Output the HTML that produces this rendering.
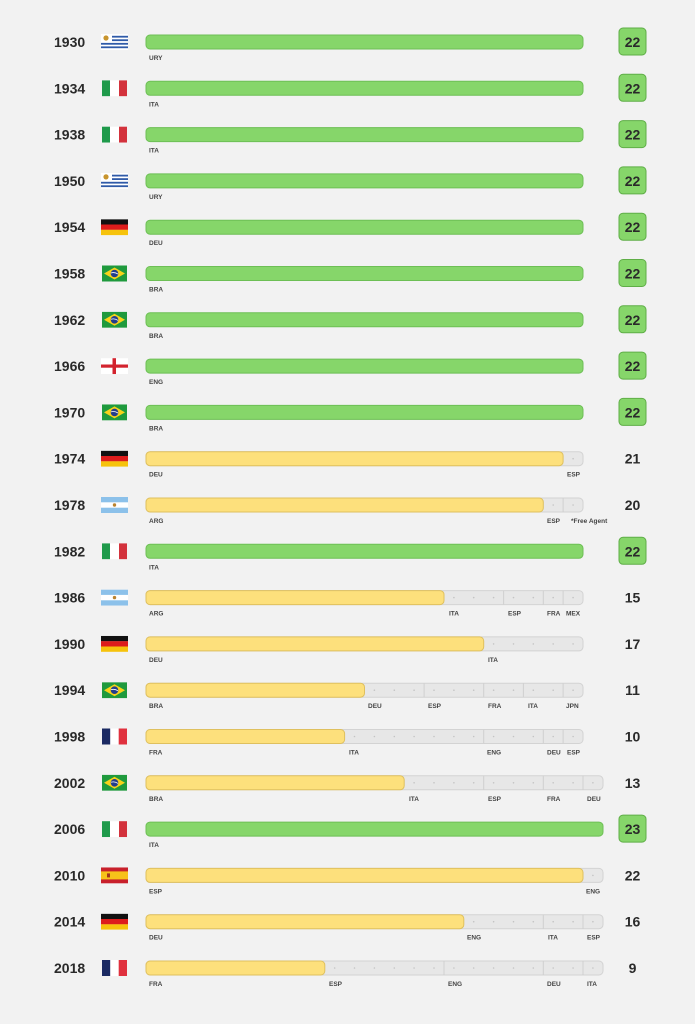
<!DOCTYPE html>
<html><head><meta charset="utf-8"><style>
html,body{margin:0;padding:0;background:#f2f2f2;}
svg{display:block;font-family:"Liberation Sans",sans-serif;}
.yr{font-size:14px;font-weight:bold;fill:#2a2a2a;}
.lb{font-size:6.5px;font-weight:bold;fill:#444;}
.n{font-size:14px;font-weight:bold;fill:#2a2a2a;text-anchor:middle;}
.g{fill:#86d66a;stroke:#6dbf55;stroke-width:1;}
.y{fill:#fde07c;stroke:#dfc05e;stroke-width:1;}
.b{fill:#e7e7e7;stroke:#d3d3d3;stroke-width:1;}
.bd{fill:#86d66a;stroke:#5fae47;stroke-width:1;}
.s{stroke:#d0d0d0;stroke-width:1;}
.d{fill:#c4c4c4;}
</style></head><body>
<svg width="695" height="1024" viewBox="0 0 695 1024">
<defs>
<symbol id="URY" viewBox="0 0 27 16"><rect width="27" height="16" fill="#fff"/><rect y="1.8" width="27" height="1.8" fill="#2f5aa8"/><rect y="5.3" width="27" height="1.8" fill="#2f5aa8"/><rect y="8.9" width="27" height="1.8" fill="#2f5aa8"/><rect y="12.4" width="27" height="1.8" fill="#2f5aa8"/><rect width="11" height="8.5" fill="#fff"/><circle cx="5" cy="4" r="2.6" fill="#c8952e"/></symbol>
<symbol id="ITA" viewBox="0 0 27 16"><rect x="1" width="8" height="16" fill="#1f9a4b"/><rect x="9" width="9" height="16" fill="#fff"/><rect x="18" width="8" height="16" fill="#d3323c"/></symbol>
<symbol id="DEU" viewBox="0 0 27 16"><rect width="27" height="5.4" fill="#111"/><rect y="5.3" width="27" height="5.4" fill="#dd1c1c"/><rect y="10.6" width="27" height="5.4" fill="#f6c30c"/></symbol>
<symbol id="BRA" viewBox="0 0 27 16"><rect x="1" width="25" height="16" fill="#1f9a3d"/><polygon points="13.5,2 24,8 13.5,14 3,8" fill="#f7d31a"/><circle cx="13.5" cy="8" r="3.8" fill="#233e8b"/><path d="M10,7.5 Q13.5,6.3 17,8.6" stroke="#fff" stroke-width="0.8" fill="none"/></symbol>
<symbol id="ENG" viewBox="0 0 27 16"><rect width="27" height="16" fill="#fff"/><rect x="11.5" width="3.5" height="16" fill="#d3232e"/><rect y="6.4" width="27" height="3.2" fill="#d3232e"/></symbol>
<symbol id="ARG" viewBox="0 0 27 16"><rect width="27" height="16" fill="#fff"/><rect width="27" height="5.3" fill="#8cc1ea"/><rect y="10.7" width="27" height="5.3" fill="#8cc1ea"/><circle cx="13.5" cy="8" r="1.7" fill="#b98330"/></symbol>
<symbol id="FRA" viewBox="0 0 27 16"><rect x="1" width="8.3" height="16" fill="#1b2a63"/><rect x="9.3" width="8.4" height="16" fill="#fff"/><rect x="17.7" width="8.3" height="16" fill="#e0313e"/></symbol>
<symbol id="ESP" viewBox="0 0 27 16"><rect width="27" height="16" fill="#c8202b"/><rect y="4" width="27" height="8" fill="#f7c21a"/><rect x="6" y="6" width="3" height="4" fill="#a3341d"/></symbol>
</defs>

<!-- full green rows -->
<g transform="translate(0,42)"><text x="54" y="5" class="yr">1930</text><use href="#URY" x="101" y="-8" width="27" height="16"/><rect x="146" y="-7" width="437" height="14" rx="4" class="g"/><text x="149" y="18" class="lb">URY</text><rect x="619" y="-14" width="27" height="27" rx="4" class="bd"/><text x="632.5" y="5" class="n">22</text></g>
<g transform="translate(0,88.3)"><text x="54" y="5" class="yr">1934</text><use href="#ITA" x="101" y="-8" width="27" height="16"/><rect x="146" y="-7" width="437" height="14" rx="4" class="g"/><text x="149" y="18" class="lb">ITA</text><rect x="619" y="-14" width="27" height="27" rx="4" class="bd"/><text x="632.5" y="5" class="n">22</text></g>
<g transform="translate(0,134.6)"><text x="54" y="5" class="yr">1938</text><use href="#ITA" x="101" y="-8" width="27" height="16"/><rect x="146" y="-7" width="437" height="14" rx="4" class="g"/><text x="149" y="18" class="lb">ITA</text><rect x="619" y="-14" width="27" height="27" rx="4" class="bd"/><text x="632.5" y="5" class="n">22</text></g>
<g transform="translate(0,180.9)"><text x="54" y="5" class="yr">1950</text><use href="#URY" x="101" y="-8" width="27" height="16"/><rect x="146" y="-7" width="437" height="14" rx="4" class="g"/><text x="149" y="18" class="lb">URY</text><rect x="619" y="-14" width="27" height="27" rx="4" class="bd"/><text x="632.5" y="5" class="n">22</text></g>
<g transform="translate(0,227.2)"><text x="54" y="5" class="yr">1954</text><use href="#DEU" x="101" y="-8" width="27" height="16"/><rect x="146" y="-7" width="437" height="14" rx="4" class="g"/><text x="149" y="18" class="lb">DEU</text><rect x="619" y="-14" width="27" height="27" rx="4" class="bd"/><text x="632.5" y="5" class="n">22</text></g>
<g transform="translate(0,273.5)"><text x="54" y="5" class="yr">1958</text><use href="#BRA" x="101" y="-8" width="27" height="16"/><rect x="146" y="-7" width="437" height="14" rx="4" class="g"/><text x="149" y="18" class="lb">BRA</text><rect x="619" y="-14" width="27" height="27" rx="4" class="bd"/><text x="632.5" y="5" class="n">22</text></g>
<g transform="translate(0,319.8)"><text x="54" y="5" class="yr">1962</text><use href="#BRA" x="101" y="-8" width="27" height="16"/><rect x="146" y="-7" width="437" height="14" rx="4" class="g"/><text x="149" y="18" class="lb">BRA</text><rect x="619" y="-14" width="27" height="27" rx="4" class="bd"/><text x="632.5" y="5" class="n">22</text></g>
<g transform="translate(0,366.1)"><text x="54" y="5" class="yr">1966</text><use href="#ENG" x="101" y="-8" width="27" height="16"/><rect x="146" y="-7" width="437" height="14" rx="4" class="g"/><text x="149" y="18" class="lb">ENG</text><rect x="619" y="-14" width="27" height="27" rx="4" class="bd"/><text x="632.5" y="5" class="n">22</text></g>
<g transform="translate(0,412.4)"><text x="54" y="5" class="yr">1970</text><use href="#BRA" x="101" y="-8" width="27" height="16"/><rect x="146" y="-7" width="437" height="14" rx="4" class="g"/><text x="149" y="18" class="lb">BRA</text><rect x="619" y="-14" width="27" height="27" rx="4" class="bd"/><text x="632.5" y="5" class="n">22</text></g>

<!-- 1974 -->
<g transform="translate(0,458.7)"><text x="54" y="5" class="yr">1974</text><use href="#DEU" x="101" y="-8" width="27" height="16"/>
<rect x="146" y="-7" width="437" height="14" rx="4" class="b"/><rect x="146" y="-7" width="417.1" height="14" rx="4" class="y"/>
<circle cx="573.1" cy="0" r="0.8" class="d"/>
<text x="149" y="18" class="lb">DEU</text><text x="567" y="18" class="lb">ESP</text><text x="632.5" y="5" class="n">21</text></g>
<!-- 1978 -->
<g transform="translate(0,505)"><text x="54" y="5" class="yr">1978</text><use href="#ARG" x="101" y="-8" width="27" height="16"/>
<rect x="146" y="-7" width="437" height="14" rx="4" class="b"/><rect x="146" y="-7" width="397.3" height="14" rx="4" class="y"/>
<line x1="563.1" y1="-7" x2="563.1" y2="7" class="s"/>
<circle cx="553.2" cy="0" r="0.8" class="d"/><circle cx="573.1" cy="0" r="0.8" class="d"/>
<text x="149" y="18" class="lb">ARG</text><text x="547" y="18" class="lb">ESP</text><text x="571" y="18" class="lb">*Free Agent</text><text x="632.5" y="5" class="n">20</text></g>
<!-- 1982 -->
<g transform="translate(0,551.3)"><text x="54" y="5" class="yr">1982</text><use href="#ITA" x="101" y="-8" width="27" height="16"/><rect x="146" y="-7" width="437" height="14" rx="4" class="g"/><text x="149" y="18" class="lb">ITA</text><rect x="619" y="-14" width="27" height="27" rx="4" class="bd"/><text x="632.5" y="5" class="n">22</text></g>
<!-- 1986 -->
<g transform="translate(0,597.6)"><text x="54" y="5" class="yr">1986</text><use href="#ARG" x="101" y="-8" width="27" height="16"/>
<rect x="146" y="-7" width="437" height="14" rx="4" class="b"/><rect x="146" y="-7" width="298" height="14" rx="4" class="y"/>
<line x1="503.6" y1="-7" x2="503.6" y2="7" class="s"/><line x1="543.3" y1="-7" x2="543.3" y2="7" class="s"/><line x1="563.1" y1="-7" x2="563.1" y2="7" class="s"/>
<g class="d"><circle cx="453.9" cy="0" r="0.8"/><circle cx="473.7" cy="0" r="0.8"/><circle cx="493.6" cy="0" r="0.8"/><circle cx="513.5" cy="0" r="0.8"/><circle cx="533.3" cy="0" r="0.8"/><circle cx="553.2" cy="0" r="0.8"/><circle cx="573.1" cy="0" r="0.8"/></g>
<text x="149" y="18" class="lb">ARG</text><text x="449" y="18" class="lb">ITA</text><text x="508" y="18" class="lb">ESP</text><text x="547" y="18" class="lb">FRA</text><text x="566" y="18" class="lb">MEX</text><text x="632.5" y="5" class="n">15</text></g>
<!-- 1990 -->
<g transform="translate(0,643.9)"><text x="54" y="5" class="yr">1990</text><use href="#DEU" x="101" y="-8" width="27" height="16"/>
<rect x="146" y="-7" width="437" height="14" rx="4" class="b"/><rect x="146" y="-7" width="337.7" height="14" rx="4" class="y"/>
<g class="d"><circle cx="493.6" cy="0" r="0.8"/><circle cx="513.5" cy="0" r="0.8"/><circle cx="533.3" cy="0" r="0.8"/><circle cx="553.2" cy="0" r="0.8"/><circle cx="573.1" cy="0" r="0.8"/></g>
<text x="149" y="18" class="lb">DEU</text><text x="488" y="18" class="lb">ITA</text><text x="632.5" y="5" class="n">17</text></g>
<!-- 1994 -->
<g transform="translate(0,690.2)"><text x="54" y="5" class="yr">1994</text><use href="#BRA" x="101" y="-8" width="27" height="16"/>
<rect x="146" y="-7" width="437" height="14" rx="4" class="b"/><rect x="146" y="-7" width="218.5" height="14" rx="4" class="y"/>
<line x1="424.1" y1="-7" x2="424.1" y2="7" class="s"/><line x1="483.7" y1="-7" x2="483.7" y2="7" class="s"/><line x1="523.4" y1="-7" x2="523.4" y2="7" class="s"/><line x1="563.1" y1="-7" x2="563.1" y2="7" class="s"/>
<g class="d"><circle cx="374.4" cy="0" r="0.8"/><circle cx="394.3" cy="0" r="0.8"/><circle cx="414.1" cy="0" r="0.8"/><circle cx="434" cy="0" r="0.8"/><circle cx="453.9" cy="0" r="0.8"/><circle cx="473.7" cy="0" r="0.8"/><circle cx="493.6" cy="0" r="0.8"/><circle cx="513.5" cy="0" r="0.8"/><circle cx="533.3" cy="0" r="0.8"/><circle cx="553.2" cy="0" r="0.8"/><circle cx="573.1" cy="0" r="0.8"/></g>
<text x="149" y="18" class="lb">BRA</text><text x="368" y="18" class="lb">DEU</text><text x="428" y="18" class="lb">ESP</text><text x="488" y="18" class="lb">FRA</text><text x="528" y="18" class="lb">ITA</text><text x="566" y="18" class="lb">JPN</text><text x="632.5" y="5" class="n">11</text></g>
<!-- 1998 -->
<g transform="translate(0,736.5)"><text x="54" y="5" class="yr">1998</text><use href="#FRA" x="101" y="-8" width="27" height="16"/>
<rect x="146" y="-7" width="437" height="14" rx="4" class="b"/><rect x="146" y="-7" width="198.6" height="14" rx="4" class="y"/>
<line x1="483.7" y1="-7" x2="483.7" y2="7" class="s"/><line x1="543.3" y1="-7" x2="543.3" y2="7" class="s"/><line x1="563.1" y1="-7" x2="563.1" y2="7" class="s"/>
<g class="d"><circle cx="354.5" cy="0" r="0.8"/><circle cx="374.4" cy="0" r="0.8"/><circle cx="394.3" cy="0" r="0.8"/><circle cx="414.1" cy="0" r="0.8"/><circle cx="434" cy="0" r="0.8"/><circle cx="453.9" cy="0" r="0.8"/><circle cx="473.7" cy="0" r="0.8"/><circle cx="493.6" cy="0" r="0.8"/><circle cx="513.5" cy="0" r="0.8"/><circle cx="533.3" cy="0" r="0.8"/><circle cx="553.2" cy="0" r="0.8"/><circle cx="573.1" cy="0" r="0.8"/></g>
<text x="149" y="18" class="lb">FRA</text><text x="349" y="18" class="lb">ITA</text><text x="487" y="18" class="lb">ENG</text><text x="547" y="18" class="lb">DEU</text><text x="567" y="18" class="lb">ESP</text><text x="632.5" y="5" class="n">10</text></g>
<!-- 2002 -->
<g transform="translate(0,782.8)"><text x="54" y="5" class="yr">2002</text><use href="#BRA" x="101" y="-8" width="27" height="16"/>
<rect x="146" y="-7" width="457" height="14" rx="4" class="b"/><rect x="146" y="-7" width="258.2" height="14" rx="4" class="y"/>
<line x1="483.7" y1="-7" x2="483.7" y2="7" class="s"/><line x1="543.3" y1="-7" x2="543.3" y2="7" class="s"/><line x1="583" y1="-7" x2="583" y2="7" class="s"/>
<g class="d"><circle cx="414.1" cy="0" r="0.8"/><circle cx="434" cy="0" r="0.8"/><circle cx="453.9" cy="0" r="0.8"/><circle cx="473.7" cy="0" r="0.8"/><circle cx="493.6" cy="0" r="0.8"/><circle cx="513.5" cy="0" r="0.8"/><circle cx="533.3" cy="0" r="0.8"/><circle cx="553.2" cy="0" r="0.8"/><circle cx="573.1" cy="0" r="0.8"/><circle cx="592.9" cy="0" r="0.8"/></g>
<text x="149" y="18" class="lb">BRA</text><text x="409" y="18" class="lb">ITA</text><text x="488" y="18" class="lb">ESP</text><text x="547" y="18" class="lb">FRA</text><text x="587" y="18" class="lb">DEU</text><text x="632.5" y="5" class="n">13</text></g>
<!-- 2006 -->
<g transform="translate(0,829.1)"><text x="54" y="5" class="yr">2006</text><use href="#ITA" x="101" y="-8" width="27" height="16"/><rect x="146" y="-7" width="457" height="14" rx="4" class="g"/><text x="149" y="18" class="lb">ITA</text><rect x="619" y="-14" width="27" height="27" rx="4" class="bd"/><text x="632.5" y="5" class="n">23</text></g>
<!-- 2010 -->
<g transform="translate(0,875.4)"><text x="54" y="5" class="yr">2010</text><use href="#ESP" x="101" y="-8" width="27" height="16"/>
<rect x="146" y="-7" width="457" height="14" rx="4" class="b"/><rect x="146" y="-7" width="437" height="14" rx="4" class="y"/>
<circle cx="592.9" cy="0" r="0.8" class="d"/>
<text x="149" y="18" class="lb">ESP</text><text x="586" y="18" class="lb">ENG</text><text x="632.5" y="5" class="n">22</text></g>
<!-- 2014 -->
<g transform="translate(0,921.7)"><text x="54" y="5" class="yr">2014</text><use href="#DEU" x="101" y="-8" width="27" height="16"/>
<rect x="146" y="-7" width="457" height="14" rx="4" class="b"/><rect x="146" y="-7" width="317.8" height="14" rx="4" class="y"/>
<line x1="543.3" y1="-7" x2="543.3" y2="7" class="s"/><line x1="583" y1="-7" x2="583" y2="7" class="s"/>
<g class="d"><circle cx="473.7" cy="0" r="0.8"/><circle cx="493.6" cy="0" r="0.8"/><circle cx="513.5" cy="0" r="0.8"/><circle cx="533.3" cy="0" r="0.8"/><circle cx="553.2" cy="0" r="0.8"/><circle cx="573.1" cy="0" r="0.8"/><circle cx="592.9" cy="0" r="0.8"/></g>
<text x="149" y="18" class="lb">DEU</text><text x="467" y="18" class="lb">ENG</text><text x="548" y="18" class="lb">ITA</text><text x="587" y="18" class="lb">ESP</text><text x="632.5" y="5" class="n">16</text></g>
<!-- 2018 -->
<g transform="translate(0,968)"><text x="54" y="5" class="yr">2018</text><use href="#FRA" x="101" y="-8" width="27" height="16"/>
<rect x="146" y="-7" width="457" height="14" rx="4" class="b"/><rect x="146" y="-7" width="178.8" height="14" rx="4" class="y"/>
<line x1="444" y1="-7" x2="444" y2="7" class="s"/><line x1="543.3" y1="-7" x2="543.3" y2="7" class="s"/><line x1="583" y1="-7" x2="583" y2="7" class="s"/>
<g class="d"><circle cx="334.7" cy="0" r="0.8"/><circle cx="354.5" cy="0" r="0.8"/><circle cx="374.4" cy="0" r="0.8"/><circle cx="394.3" cy="0" r="0.8"/><circle cx="414.1" cy="0" r="0.8"/><circle cx="434" cy="0" r="0.8"/><circle cx="453.9" cy="0" r="0.8"/><circle cx="473.7" cy="0" r="0.8"/><circle cx="493.6" cy="0" r="0.8"/><circle cx="513.5" cy="0" r="0.8"/><circle cx="533.3" cy="0" r="0.8"/><circle cx="553.2" cy="0" r="0.8"/><circle cx="573.1" cy="0" r="0.8"/><circle cx="592.9" cy="0" r="0.8"/></g>
<text x="149" y="18" class="lb">FRA</text><text x="329" y="18" class="lb">ESP</text><text x="448" y="18" class="lb">ENG</text><text x="547" y="18" class="lb">DEU</text><text x="587" y="18" class="lb">ITA</text><text x="632.5" y="5" class="n">9</text></g>
</svg>
</body></html>
